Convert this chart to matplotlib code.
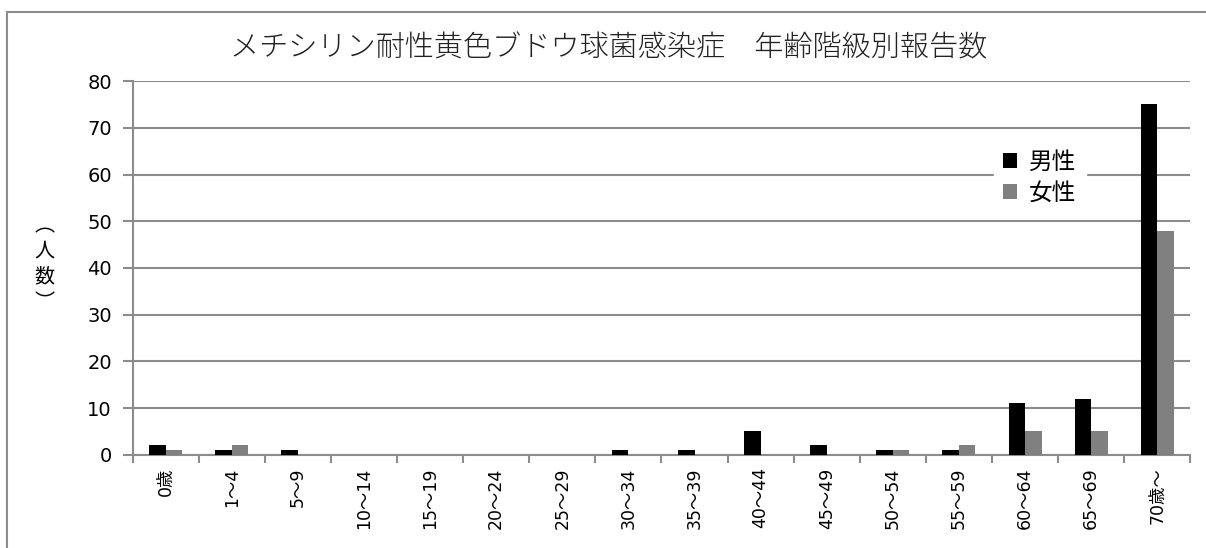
import numpy as np
import matplotlib
matplotlib.use("Agg")
import matplotlib.pyplot as plt
from matplotlib.lines import Line2D

plt.rcParams['font.family'] = ['DejaVu Sans', 'Noto Sans CJK JP']

title = "メチシリン耐性黄色ブドウ球菌感染症　年齢階級別報告数"
categories = ["0歳", "1～4", "5～9", "10～14", "15～19", "20～24", "25～29", "30～34",
              "35～39", "40～44", "45～49", "50～54", "55～59", "60～64", "65～69", "70歳～"]
male = [2, 1, 1, 0, 0, 0, 0, 1, 1, 5, 2, 1, 1, 11, 12, 75]
female = [1, 2, 0, 0, 0, 0, 0, 0, 0, 0, 0, 1, 2, 5, 5, 48]
series_names = ["男性", "女性"]
y_ticks = [0, 10, 20, 30, 40, 50, 60, 70, 80]
y_label = "︵\n人\n数\n︶"

grid_col = "#8c8c8c"
jp = ["Noto Sans CJK JP"]

fig = plt.figure(figsize=(12.06, 5.48), dpi=100)
ax = fig.add_axes([0.110, 0.170, 0.877, 0.682])

x = np.arange(len(categories))
w = 0.25
ax.bar(x - w / 2, male, width=w, color="black", label=series_names[0], zorder=3)
ax.bar(x + w / 2, female, width=w, color="#808080", label=series_names[1], zorder=3)

ax.set_xlim(-0.5, len(categories) - 0.5)
ax.set_ylim(0, 80)
ax.set_yticks(y_ticks)
ax.yaxis.grid(True, color=grid_col, linewidth=1.5, zorder=0)
ax.tick_params(axis="y", length=7, width=1.5, color=grid_col, labelsize=14, pad=8)

# category labels at centres, tick marks at boundaries
ax.set_xticks(np.arange(len(categories) + 1) - 0.5)
ax.set_xticklabels([])
ax.set_xticks(x, minor=True)
ax.set_xticklabels(categories, minor=True, rotation=90, fontsize=12.5)
ax.tick_params(axis="x", which="major", length=6, width=1.5, color=grid_col)
ax.tick_params(axis="x", which="minor", length=0, pad=9)

for s in ["top", "right"]:
    ax.spines[s].set_visible(False)
for s in ["left", "bottom"]:
    ax.spines[s].set_color(grid_col)
    ax.spines[s].set_linewidth(1.5)

fig.text(0.505, 0.912, title, ha="center", va="center", fontsize=21,
         family=jp, fontweight="light", color="#222222")

# vertical y label （人数）
fig.text(0.037, 1 - 264 / 548, y_label, ha="center", va="center", fontsize=14.5,
         family=jp, linespacing=1.3)

leg = ax.legend(loc="center", bbox_to_anchor=(0.862, 0.676), bbox_transform=fig.transFigure,
                frameon=True, handlelength=0.6, handleheight=0.6,
                handletextpad=0.5, labelspacing=0.35, borderpad=0.4,
                prop={"family": jp, "size": 17})
leg.get_frame().set_edgecolor("white")
leg.get_frame().set_facecolor("white")
leg.get_frame().set_alpha(1)
leg.get_frame().set_boxstyle("square", pad=0.0)

# outer chart border (cropped at right and bottom)
bx, by = 7 / 1206, 1 - 12 / 548
fig.add_artist(Line2D([bx, bx], [0, by], color=grid_col, linewidth=1.5))
fig.add_artist(Line2D([bx, 1], [by, by], color=grid_col, linewidth=1.5))

fig.savefig("out.png", dpi=100)
